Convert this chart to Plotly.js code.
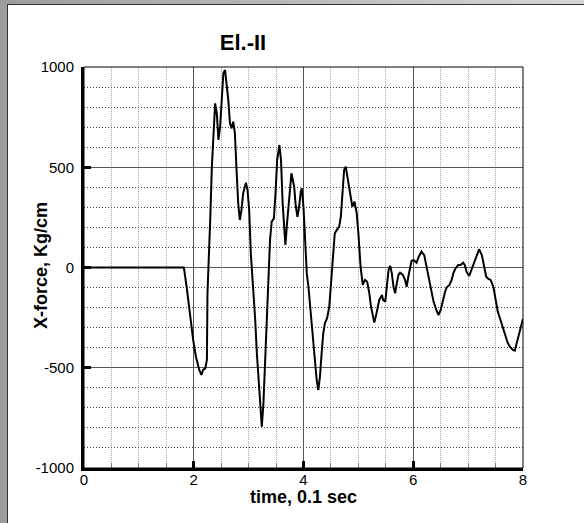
<!DOCTYPE html>
<html>
<head>
<meta charset="utf-8">
<script src="https://cdn.plot.ly/plotly-3.0.1.min.js"></script>
<style>
html, body { margin: 0; padding: 0; width: 584px; height: 523px; overflow: hidden; }
body { background: linear-gradient(to right, #9c9c9c, #d6d6d6); position: relative; }
#panel { position: absolute; left: 7px; top: 4px; width: 577px; height: 519px; background: #ffffff; border-left: 1px solid #333; border-top: 1px solid #333; box-sizing: border-box; }
#chart { position: absolute; left: 0; top: 0; width: 584px; height: 523px; }
</style>
</head>
<body>
<div id="panel"></div>
<div id="chart"></div>
<script>
const chartTitle = "El.-II";
const xTitle = "time, 0.1 sec";
const yTitle = "X-force, Kg/cm";
const xTickVals = [0, 2, 4, 6, 8];
const yTickVals = [-1000, -500, 0, 500, 1000];

const time = [0, 1.82, 1.87, 1.93, 1.99, 2.04, 2.10, 2.14, 2.17, 2.21, 2.24, 2.25, 2.27, 2.30, 2.33, 2.36, 2.39, 2.42, 2.45, 2.48,
  2.51, 2.54, 2.57, 2.60, 2.63, 2.66, 2.69, 2.72, 2.75, 2.78, 2.81, 2.84, 2.87, 2.90, 2.95, 2.98, 3.01, 3.04, 3.09, 3.12,
  3.15, 3.18, 3.21, 3.24, 3.27, 3.30, 3.33, 3.36, 3.39, 3.42, 3.46, 3.49, 3.52, 3.56, 3.59, 3.62, 3.65, 3.67, 3.70, 3.74,
  3.78, 3.83, 3.86, 3.89, 3.92, 3.95, 3.97, 4.00, 4.03, 4.06, 4.09, 4.12, 4.15, 4.18, 4.21, 4.24, 4.27, 4.30, 4.33, 4.36,
  4.39, 4.43, 4.47, 4.50, 4.53, 4.55, 4.57, 4.60, 4.65, 4.68, 4.71, 4.74, 4.77, 4.80, 4.85, 4.89, 4.93, 4.97, 5.00, 5.04,
  5.08, 5.12, 5.16, 5.20, 5.23, 5.26, 5.29, 5.33, 5.38, 5.43, 5.45, 5.49, 5.52, 5.55, 5.58, 5.61, 5.64, 5.67, 5.70, 5.73,
  5.76, 5.81, 5.85, 5.88, 5.91, 5.94, 5.97, 6.01, 6.06, 6.10, 6.15, 6.20, 6.23, 6.27, 6.32, 6.37, 6.42, 6.46, 6.50, 6.54,
  6.58, 6.61, 6.66, 6.70, 6.73, 6.77, 6.82, 6.86, 6.91, 6.94, 6.97, 7.02, 7.05, 7.09, 7.12, 7.17, 7.20, 7.25, 7.29, 7.33,
  7.37, 7.41, 7.46, 7.50, 7.54, 7.58, 7.63, 7.67, 7.72, 7.76, 7.81, 7.85, 7.89, 7.94, 8.00];

const xForce = [0, 0, -96, -245, -362, -445, -511, -536, -511, -503, -461, -129, 0, 237, 503, 702, 819, 769, 636, 702,
  869, 969, 985, 919, 835, 719, 694, 727, 669, 486, 320, 237, 287, 370, 423, 387, 287, 71, -129, -262,
  -428, -545, -694, -794, -677, -461, -262, -29, 137, 228, 245, 370, 536, 611, 536, 320, 171, 112, 220, 370,
  470, 403, 303, 253, 303, 378, 395, 300, 104, -29, -96, -195, -295, -378, -478, -561, -611, -545, -428, -328,
  -278, -253, -195, -96, 37, 104, 171, 184, 204, 253, 370, 486, 503, 453, 370, 303, 328, 270, 171, 4,
  -87, -62, -71, -129, -195, -245, -275, -229, -162, -137, -162, -170, -96, -12, 8, -29, -96, -129, -79, -37,
  -26, -37, -62, -96, -46, 4, 34, 37, 24, 54, 79, 62, 21, -37, -112, -170, -212, -237, -212, -162,
  -121, -99, -87, -62, -29, -4, 12, 12, 24, 12, -21, -42, -21, 12, 37, 71, 91, 62, 4, -46,
  -57, -62, -96, -162, -220, -253, -295, -337, -375, -395, -410, -415, -370, -320, -255];

const trace = {
  x: time, y: xForce, type: 'scatter', mode: 'lines',
  line: { color: '#000000', width: 2 }, hoverinfo: 'skip'
};

const fontFam = 'Liberation Sans, Arial, sans-serif';

const layout = {
  width: 584, height: 523,
  margin: { l: 84, r: 61, t: 67, b: 55, pad: 0 },
  paper_bgcolor: 'rgba(0,0,0,0)',
  plot_bgcolor: '#ffffff',
  showlegend: false,
  font: { family: fontFam, color: '#000000', size: 15 },
  title: {
    text: chartTitle,
    font: { family: fontFam, size: 22, color: '#000000', weight: 'bold' },
    xref: 'container', yref: 'container',
    x: 243 / 584, xanchor: 'center', y: 1 - 42 / 523, yanchor: 'middle'
  },
  xaxis: {
    range: [0, 8], tickvals: xTickVals, ticktext: xTickVals.map(String),
    showgrid: true, gridcolor: '#555555', gridwidth: 1, zeroline: false,
    showline: true, linecolor: '#000000', linewidth: 3,
    ticks: 'inside', ticklen: 7, tickwidth: 3, tickcolor: '#000000',
    tickfont: { family: fontFam, size: 15, color: '#000000' },
    ticklabelstandoff: -4,
    minor: { dtick: 0.5, showgrid: true, gridcolor: '#a8a8a8', griddash: '1px,1px', gridwidth: 1,
             ticks: 'inside', ticklen: 5, tickwidth: 1, tickcolor: '#777777' },
    fixedrange: true
  },
  yaxis: {
    range: [-1000, 1000], tickvals: yTickVals, ticktext: yTickVals.map(String),
    showgrid: true, gridcolor: '#555555', gridwidth: 1, zeroline: false,
    showline: true, linecolor: '#000000', linewidth: 3,
    ticks: 'inside', ticklen: 7, tickwidth: 3, tickcolor: '#000000',
    tickfont: { family: fontFam, size: 15, color: '#000000' },
    ticklabelstandoff: 4,
    minor: { dtick: 100, showgrid: true, gridcolor: '#444444', griddash: '1px,2px', gridwidth: 1 },
    fixedrange: true
  },
  shapes: [
    { type: 'rect', xref: 'paper', yref: 'paper', x0: 0, x1: 1, y0: 0, y1: 1,
      line: { color: '#000000', width: 1 }, fillcolor: 'rgba(0,0,0,0)', layer: 'above' }
  ],
  annotations: [
    { text: xTitle, xref: 'paper', yref: 'paper', x: (303 - 84) / 439, y: -(497 - 468) / 401,
      xanchor: 'center', yanchor: 'middle', showarrow: false,
      font: { family: fontFam, size: 18, color: '#000000', weight: 'bold' } },
    { text: yTitle, xref: 'paper', yref: 'paper', x: (41 - 84) / 439, y: (468 - 266) / 401,
      xanchor: 'center', yanchor: 'middle', textangle: -90, showarrow: false,
      font: { family: fontFam, size: 18, color: '#000000', weight: 'bold' } }
  ]
};

Plotly.newPlot('chart', [trace], layout, { displayModeBar: false, staticPlot: true });
</script>
</body>
</html>
